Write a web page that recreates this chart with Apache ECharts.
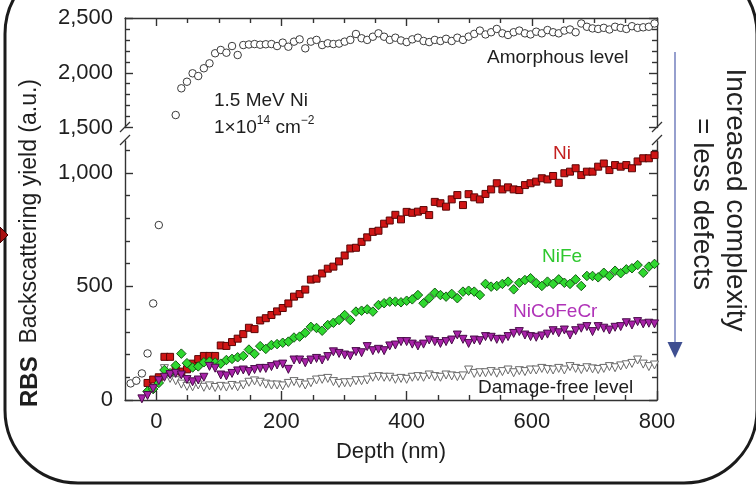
<!DOCTYPE html>
<html>
<head>
<meta charset="utf-8">
<script src="https://cdn.jsdelivr.net/npm/echarts@6/dist/echarts.min.js"></script>
<style>
  html, body { margin: 0; padding: 0; background: #fff; }
  #chart { width: 756px; height: 487px; }
</style>
</head>
<body>
<div id="chart"></div>
<script>
// Depth channels (nm) shared by every spectrum
const depth = [-41, -32, -23, -14, -5, 4, 13, 22, 31, 40, 49, 58, 67, 76, 85, 94, 103, 112, 121, 130,
  139, 148, 157, 166, 175, 184, 193, 202, 211, 220, 229, 238, 247, 256, 265, 274, 283, 292, 301, 310,
  319, 328, 337, 346, 355, 364, 373, 382, 391, 400, 409, 418, 427, 436, 445, 454, 463, 472, 481, 490,
  499, 508, 517, 526, 535, 544, 553, 562, 571, 580, 589, 598, 607, 616, 625, 634, 643, 652, 661, 670,
  679, 688, 697, 706, 715, 724, 733, 742, 751, 760, 769, 778, 787, 796];

// Random (amorphous) reference level
const amorphous = [73, 85, 117, 205, 425, 770, null, null, 1614, 1858, 1918, 1995, 1970, 2041, 2086, 2178, 2208, 2183, 2244, 2162,
  2253, 2258, 2262, 2256, 2260, 2262, 2244, 2275, 2238, 2284, 2305, 2223, 2284, 2300, 2253, 2269, 2262, 2266, 2284, 2300,
  2354, 2315, 2300, 2329, 2360, 2329, 2300, 2320, 2295, 2280, 2305, 2320, 2290, 2280, 2300, 2290, 2310, 2290, 2320, 2300,
  2330, 2355, 2385, 2350, 2370, 2400, 2360, 2345, 2370, 2385, 2360, 2350, 2375, 2360, 2390, 2370, 2360, 2385, 2395, 2370,
  2450, 2420, 2405, 2400, 2410, 2395, 2420, 2410, 2400, 2425, 2410, 2415, 2420, 2450];

// Irradiated pure Ni
const ni = [null, null, null, 75, 90, 100, 190, 190, 140, 125, 135, 160, 180, 194, 194, 194, 240, 238, 255, 270,
  290, 318, 312, 350, 360, 374, 390, 405, 425, 455, 466, 486, 530, 534, 557, 578, 587, 610, 636, 667,
  670, 696, 716, 740, 745, 776, 790, 815, 795, 828, 824, 829, 836, 814, 872, 866, 851, 883, 902, 858,
  906, 892, 883, 907, 927, 954, 927, 936, 927, 924, 946, 954, 961, 976, 971, 986, 956, 998, 1005, 1020,
  990, 1005, 1005, 1027, 1041, 1012, 1034, 1027, 1034, 1020, 1050, 1064, 1064, 1078];

// Irradiated NiFe
const nife = [null, null, null, 38, 48, 75, 132, 118, 152, 204, 162, 143, 148, 166, 169, 165, 160, 176, 181, 188,
  194, 222, 203, 237, 225, 242, 246, 252, 257, 275, 279, 296, 322, 317, 305, 330, 340, 352, 374, 352,
  389, 393, 399, 389, 418, 426, 433, 433, 430, 437, 443, 462, 426, 448, 472, 462, 455, 467, 448, 477,
  481, 477, 462, 511, 499, 502, 511, 521, 487, 516, 528, 536, 514, 502, 521, 511, 531, 516, 511, 531,
  502, 546, 546, 540, 560, 546, 569, 558, 575, 580, 594, 560, 587, 599];

// Irradiated NiCoFeCr
const nicofecr = [null, null, 5, 20, 50, 85, 100, 112, 117, 110, 90, 80, 88, 100, 148, 140, 110, 106, 117, 128,
  132, 125, 134, 139, 139, 147, 154, 158, 135, 176, 176, 164, 176, 183, 176, 191, 212, 205, 198, 194,
  213, 208, 235, 217, 223, 217, 238, 242, 257, 257, 246, 238, 246, 264, 257, 249, 257, 264, 286, 267,
  249, 264, 261, 279, 276, 267, 267, 279, 293, 301, 286, 279, 276, 282, 290, 305, 296, 308, 286, 305,
  316, 323, 301, 323, 316, 308, 320, 323, 340, 330, 345, 335, 338, 335];

// Unirradiated (damage-free) reference level
const damageFree = [null, null, null, null, null, null, 138, 95, 85, 70, 60, 58, 66, 56, 62, 55, 60, 57, 64, 58,
  66, 78, 84, 78, 70, 66, 66, 62, 73, 81, 73, 66, 76, 88, 91, 95, 81, 73, 76, 76,
  85, 85, 88, 100, 103, 100, 100, 91, 95, 91, 100, 103, 100, 110, 103, 100, 110, 106, 103, 106,
  132, 117, 120, 120, 125, 118, 125, 132, 120, 129, 125, 132, 132, 139, 134, 132, 139, 132, 147, 139,
  134, 142, 137, 134, 139, 147, 142, 150, 155, 161, 176, 158, 147, 154];

// Axis ticks and labels
const depthLabels = [0, 200, 400, 600, 800];
const depthMinor = [50, 100, 150, 250, 300, 350, 450, 500, 550, 650, 700, 750];
const lowLabels = [0, 500, 1000];
const lowMinor = [100, 200, 300, 400, 600, 700, 800, 900, 1100];
const highLabels = [1500, 2000, 2500];
const highMinor = [1600, 1700, 1800, 1900, 2100, 2200, 2300, 2400];

const FONT = "'Liberation Sans', Arial, Helvetica, sans-serif";
const INK = '#1e1e1e';
const AXIS = { color: '#333', width: 1.4 };
const LOW_RANGE = [0, 1140];
const HIGH_RANGE = [1500, 2500];

function points(values, keep) {
  const out = [];
  values.forEach((v, i) => {
    if (v != null && (!keep || keep(v))) out.push([depth[i], v]);
  });
  return out;
}

function xAxis(gridIndex, position, ticks, len, showLine, labels, extra) {
  return Object.assign({
    type: 'value', gridIndex, position, min: -50, max: 800,
    axisLine: { show: showLine, onZero: false, lineStyle: AXIS },
    axisTick: { show: true, inside: true, length: len, customValues: ticks, lineStyle: AXIS },
    axisLabel: labels ? {
      show: true, customValues: labels, margin: 11, fontSize: 22, fontFamily: FONT, color: INK
    } : { show: false },
    splitLine: { show: false }
  }, extra || {});
}

function yAxis(gridIndex, position, range, ticks, len, showLine, labels) {
  return {
    type: 'value', gridIndex, position, min: range[0], max: range[1],
    axisLine: { show: showLine, onZero: false, lineStyle: AXIS },
    axisTick: { show: true, inside: true, length: len, customValues: ticks, lineStyle: AXIS },
    axisLabel: labels ? {
      show: true, customValues: labels, margin: 12, fontSize: 22, fontFamily: FONT, color: INK,
      formatter: v => Number(v).toLocaleString('en-US')
    } : { show: false },
    splitLine: { show: false }
  };
}

const chart = echarts.init(document.getElementById('chart'), null, { renderer: 'canvas' });

function scatter(name, data, grid, symbol, size, fill, edge, rotate, z) {
  return {
    name, type: 'scatter', data,
    xAxisIndex: grid === 1 ? 0 : 2,
    yAxisIndex: grid === 1 ? 0 : 4,
    symbol, symbolSize: size, symbolRotate: rotate || 0,
    clip: false, z: z || 2,
    itemStyle: { color: fill, borderColor: edge, borderWidth: 1, opacity: 1 },
    emphasis: { disabled: true }
  };
}

const text = (t, x, y, size, color, extra) => Object.assign({
  type: 'text', x, y, z: 20,
  style: { text: t, fontSize: size, fontFamily: FONT, fill: color, align: 'left', verticalAlign: 'middle' }
}, extra || {});

const option = {
  animation: false,
  backgroundColor: '#ffffff',
  grid: [
    { left: 125, right: 99, top: 18, height: 109.5, outerBoundsMode: 'none' },
    { left: 125, right: 99, top: 141, height: 259, outerBoundsMode: 'none' }
  ],
  xAxis: [
    xAxis(1, 'bottom', depthLabels, 9, true, depthLabels, {
      name: 'Depth (nm)', nameLocation: 'middle', nameGap: 41,
      nameTextStyle: { fontSize: 22, fontFamily: FONT, color: INK }
    }),
    xAxis(1, 'bottom', depthMinor, 5, false, null),
    xAxis(0, 'top', depthLabels, 8, true, null),
    xAxis(0, 'top', depthMinor, 5, false, null)
  ],
  yAxis: [
    yAxis(1, 'left', LOW_RANGE, lowLabels, 8, true, lowLabels),
    yAxis(1, 'left', LOW_RANGE, lowMinor, 5, false, null),
    yAxis(1, 'right', LOW_RANGE, lowLabels, 8, true, null),
    yAxis(1, 'right', LOW_RANGE, lowMinor, 5, false, null),
    yAxis(0, 'left', HIGH_RANGE, highLabels, 8, true, highLabels),
    yAxis(0, 'left', HIGH_RANGE, highMinor, 5, false, null),
    yAxis(0, 'right', HIGH_RANGE, highLabels, 8, true, null),
    yAxis(0, 'right', HIGH_RANGE, highMinor, 5, false, null)
  ],
  series: [
    scatter('Amorphous level', points(amorphous, v => v <= LOW_RANGE[1]), 1, 'circle', 7.5, '#ffffff', '#3a3a3a'),
    scatter('Amorphous level', points(amorphous, v => v >= HIGH_RANGE[0]), 0, 'circle', 7.5, '#ffffff', '#3a3a3a'),
    scatter('Damage-free level', points(damageFree), 1, 'triangle', 8, '#ffffff', '#6a6a6a', 180),
    scatter('Ni', points(ni), 1, 'rect', 7, '#d01515', '#5a0505', 0, 3),
    scatter('NiFe', points(nife), 1, 'diamond', 9.5, '#2fd82f', '#145a14', 0, 4),
    scatter('NiCoFeCr', points(nicofecr), 1, 'triangle', 8, '#a822a8', '#4a0c4a', 180, 5)
  ],
  graphic: [
    // rounded panel frame
    { type: 'rect', z: 1, silent: true,
      shape: { x: 5, y: -39, width: 752, height: 522, r: 73 },
      style: { fill: 'none', stroke: '#1b1b1b', lineWidth: 3 } },
    // link marker on the left edge
    { type: 'polygon', z: 2, silent: true,
      shape: { points: [[0, 227], [8, 235], [0, 243]] },
      style: { fill: '#a81010', stroke: '#3a0000', lineWidth: 1 } },
    // axis breaks
    { type: 'line', z: 10, shape: { x1: 120, y1: 132, x2: 130, y2: 122 }, style: { stroke: '#333', lineWidth: 1.3 } },
    { type: 'line', z: 10, shape: { x1: 120, y1: 145, x2: 130, y2: 135 }, style: { stroke: '#333', lineWidth: 1.3 } },
    { type: 'line', z: 10, shape: { x1: 652, y1: 132, x2: 662, y2: 122 }, style: { stroke: '#333', lineWidth: 1.3 } },
    { type: 'line', z: 10, shape: { x1: 652, y1: 145, x2: 662, y2: 135 }, style: { stroke: '#333', lineWidth: 1.3 } },
    // complexity arrow
    { type: 'line', z: 10, shape: { x1: 675, y1: 52, x2: 675, y2: 345 }, style: { stroke: '#7c88c2', lineWidth: 1.6 } },
    { type: 'polygon', z: 10, shape: { points: [[667.5, 342], [682.5, 342], [675, 358]] }, style: { fill: '#3f4f91' } },
    text('Increased complexity', 735, 200, 28, '#222', { rotation: -Math.PI / 2, style: {
      text: 'Increased complexity', fontSize: 28, fontFamily: FONT, fill: '#222', align: 'center', verticalAlign: 'middle' } }),
    text('= less defects', 702, 204, 28, '#222', { rotation: -Math.PI / 2, style: {
      text: '= less defects', fontSize: 28, fontFamily: FONT, fill: '#222', align: 'center', verticalAlign: 'middle' } }),
    // y-axis title
    { type: 'text', x: 30, y: 243, rotation: Math.PI / 2, z: 20,
      style: {
        text: '{b|RBS}  Backscattering yield (a.u.)',
        fontSize: 23, fontFamily: FONT, fill: INK, align: 'center', verticalAlign: 'middle',
        rich: { b: { fontSize: 24, fontWeight: 'bold', fontFamily: FONT, fill: INK } }
      } },
    // annotations
    text('1.5 MeV Ni', 214, 101, 19, INK),
    { type: 'text', x: 214, y: 128, z: 20,
      style: {
        text: '1×10{s|14} cm{s|−2}', fontSize: 19, fontFamily: FONT, fill: INK,
        align: 'left', verticalAlign: 'middle', lineHeight: 26,
        rich: { s: { fontSize: 12, fontFamily: FONT, fill: INK, verticalAlign: 'top', lineHeight: 26 } }
      } },
    text('Amorphous level', 487, 58, 19, INK),
    text('Ni', 553, 154, 19, '#c42020'),
    text('NiFe', 542, 257, 19, '#2ec82e'),
    text('NiCoFeCr', 513, 312, 19, '#b032b8'),
    text('Damage-free level', 478, 388, 19, INK)
  ]
};

chart.setOption(option);
</script>
</body>
</html>
